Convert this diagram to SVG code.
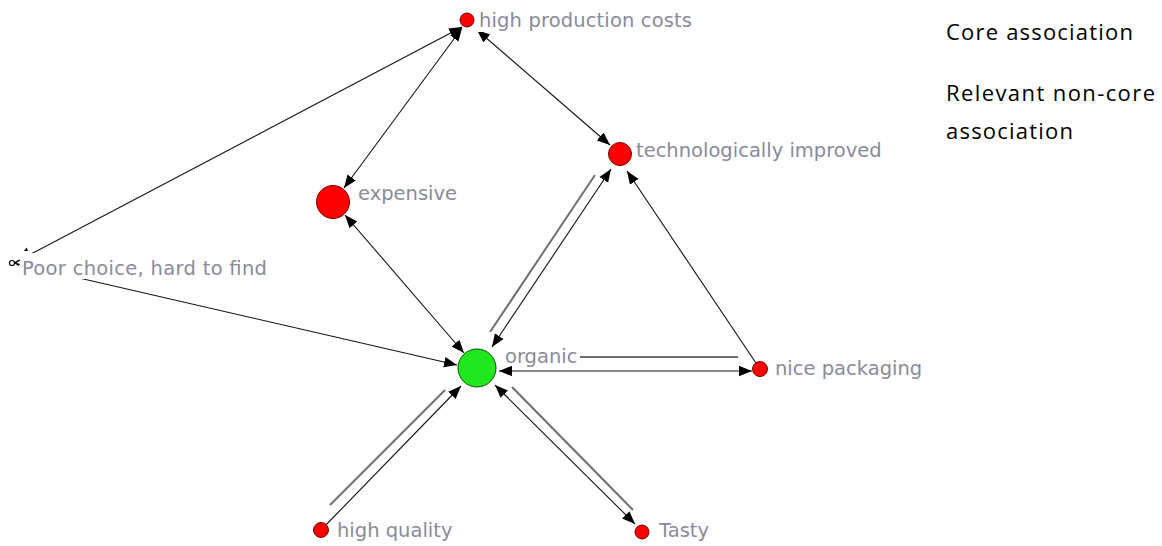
<svg xmlns="http://www.w3.org/2000/svg" width="1162" height="546" viewBox="0 0 1162 546">
  <style>
    .edge { stroke: #111; stroke-width: 1.1; fill: none; }
    .core { stroke: #6e6e6e; stroke-width: 2; fill: none; }
    .lbl { font-family: "DejaVu Sans", Verdana, sans-serif; font-size: 19.5px; fill: #8a8a98; }
    .lblbg { fill: #fff; }
    .red { fill: #ff0000; stroke: #7a0000; stroke-width: 1; }
    .green { fill: #1fe81f; stroke: #0a4a0a; stroke-width: 1; }
    .legend { font-family: "Open Sans", "Noto Sans", sans-serif; font-size: 22px; fill: #000; }
  </style>
  <defs>
    <marker id="arr" markerUnits="userSpaceOnUse" markerWidth="15" markerHeight="13" refX="13" refY="5.5" orient="auto-start-reverse">
      <path d="M0,0.3 L13,5.5 L0,10.7 Z" fill="#000"/>
    </marker>
  </defs>
  <rect width="1162" height="546" fill="#fff"/>

  <!-- connectors -->
  <g id="connectors">
    <!-- core association strokes (grey) -->
    <path class="core" d="M490,332 L595,175"/>
    <path class="core" d="M580,357 L738,357"/>
    <path class="core" d="M512,387 L633,510"/>
    <path class="core" d="M445,390 L330,505"/>
    <!-- association arrows (black) -->
    <path class="edge" d="M14,263 L462,27" marker-end="url(#arr)"/>
    <path class="edge" d="M344,188 L462,28" marker-start="url(#arr)" marker-end="url(#arr)"/>
    <path class="edge" d="M477,30 L610,145" marker-start="url(#arr)" marker-end="url(#arr)"/>
    <path class="edge" d="M345,215 L464,353" marker-start="url(#arr)" marker-end="url(#arr)"/>
    <path class="edge" d="M14,263 L457,365" marker-end="url(#arr)"/>
    <path class="edge" d="M492,347 L611,169" marker-start="url(#arr)" marker-end="url(#arr)"/>
    <path class="edge" d="M760,369 L627,171" marker-end="url(#arr)"/>
    <path class="edge" d="M499,371 L752,371" marker-start="url(#arr)" marker-end="url(#arr)"/>
    <path class="edge" d="M321,530 L461,386" marker-end="url(#arr)"/>
    <path class="edge" d="M495,385 L635,524" marker-start="url(#arr)" marker-end="url(#arr)"/>
  </g>

  <!-- nodes -->
  <g id="node-high-production-costs">
    <rect class="lblbg" x="477" y="10" width="218" height="22"/>
    <circle class="red" cx="467" cy="20" r="7"/>
    <text class="lbl" x="479" y="27" textLength="213">high production costs</text>
  </g>
  <g id="node-expensive">
    <rect class="lblbg" x="356" y="183" width="103" height="22"/>
    <circle class="red" cx="333" cy="202" r="16.5"/>
    <text class="lbl" x="358" y="200">expensive</text>
  </g>
  <g id="node-technologically-improved">
    <rect class="lblbg" x="634" y="140" width="247" height="22"/>
    <circle class="red" cx="620" cy="154" r="11.5"/>
    <text class="lbl" x="636" y="157">technologically improved</text>
  </g>
  <g id="node-poor-choice">
    <rect class="lblbg" x="20" y="253" width="252" height="26"/>
    <circle cx="12" cy="263" r="2.5" fill="#fff" stroke="#000" stroke-width="1.2"/>
    <path d="M19,260.5 L15,263 L19,265.5" fill="none" stroke="#000" stroke-width="1.2"/>
    <path d="M24,251 L26.5,247.5 L28,251 Z" fill="#000"/>
    <text class="lbl" x="22" y="275" textLength="245">Poor choice, hard to find</text>
  </g>
  <g id="node-organic">
    <rect class="lblbg" x="502" y="345" width="77" height="21"/>
    <circle class="green" cx="477" cy="368" r="19"/>
    <text class="lbl" x="505" y="363">organic</text>
  </g>
  <g id="node-nice-packaging">
    <rect class="lblbg" x="773" y="358" width="150" height="22"/>
    <circle class="red" cx="760" cy="369" r="7.5"/>
    <text class="lbl" x="775" y="375">nice packaging</text>
  </g>
  <g id="node-high-quality">
    <rect class="lblbg" x="335" y="520" width="118" height="22"/>
    <circle class="red" cx="321" cy="530" r="7.5"/>
    <text class="lbl" x="337" y="537">high quality</text>
  </g>
  <g id="node-tasty">
    <rect class="lblbg" x="657" y="520" width="58" height="22"/>
    <circle class="red" cx="642" cy="532" r="7"/>
    <text class="lbl" x="659" y="537">Tasty</text>
  </g>

  <!-- legend -->
  <g id="legend">
    <text class="legend" x="946" y="40" textLength="187">Core association</text>
    <text class="legend" x="946" y="101" textLength="209">Relevant non-core</text>
    <text class="legend" x="946" y="139" textLength="127">association</text>
  </g>
</svg>
